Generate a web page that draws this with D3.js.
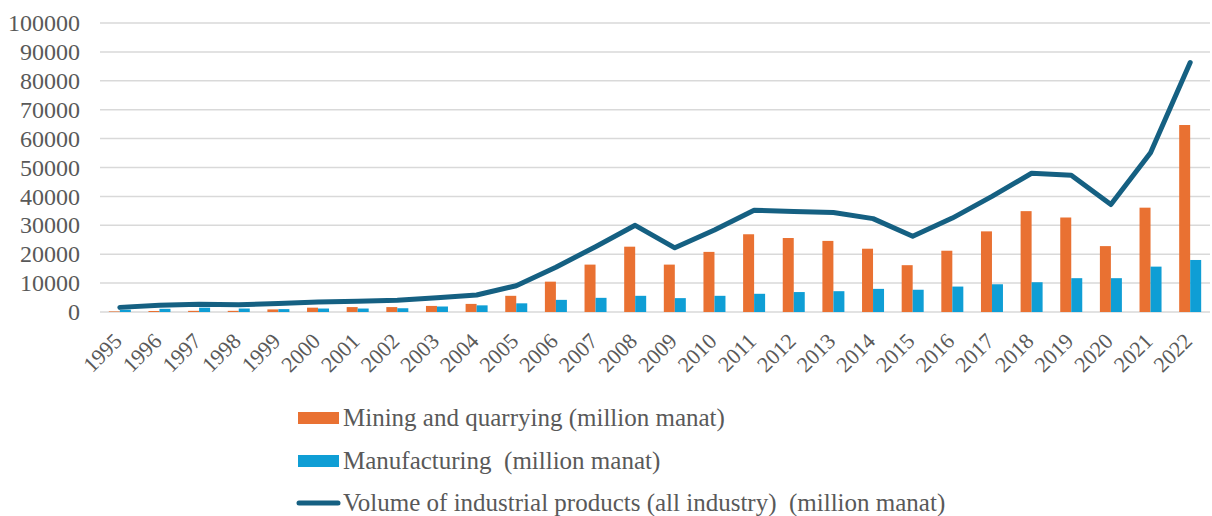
<!DOCTYPE html>
<html>
  <head>
    <meta charset="utf-8">
    <title>Industrial products</title>
    <script src="https://d3js.org/d3.v7.min.js"></script>
    <style>
      body { margin: 0; background: #fff; }
      svg text { font-family: "Liberation Serif", "Times New Roman", serif; fill: #595959; white-space: pre; }
      .grid line { stroke: #d9d9d9; stroke-width: 1.5; }
    </style>
  </head>
  <body>
    <svg id="chart" width="1212" height="516"></svg>
    <script>
      // values (million manat)
      const years = ["1995", "1996", "1997", "1998", "1999", "2000", "2001", "2002", "2003", "2004",
        "2005", "2006", "2007", "2008", "2009", "2010", "2011", "2012", "2013", "2014",
        "2015", "2016", "2017", "2018", "2019", "2020", "2021", "2022"];
      const mining = [200, 350, 400, 400, 900, 1500, 1700, 1700, 2100, 2800,
        5600, 10500, 16400, 22600, 16400, 20800, 26900, 25600, 24600, 21900,
        16200, 21200, 27900, 34900, 32700, 22800, 36100, 64700];
      const manufacturing = [800, 1100, 1500, 1200, 1000, 1200, 1200, 1300, 1900, 2300,
        3000, 4200, 4900, 5600, 4800, 5600, 6300, 6900, 7200, 8000,
        7700, 8800, 9600, 10300, 11700, 11700, 15700, 18000];
      const total = [1600, 2300, 2650, 2500, 2900, 3500, 3750, 4100, 4900, 5900,
        9100, 15500, 22600, 30000, 22200, 28400, 35200, 34800, 34400, 32300,
        26200, 32500, 40000, 48000, 47300, 37200, 55100, 86300];
      const yTicks = [0, 10000, 20000, 30000, 40000, 50000, 60000, 70000, 80000, 90000, 100000];
      const legendLabels = ["Mining and quarrying (million manat)", "Manufacturing  (million manat)",
        "Volume of industrial products (all industry)  (million manat)"];

      const colours = { mining: "#e97132", manufacturing: "#0f9ed5", total: "#156082" };
      const margin = { top: 23, right: 2, bottom: 204, left: 100 };
      const width = 1212, height = 516;

      const svg = d3.select("#chart");
      const x = d3.scaleBand()
        .domain(years)
        .range([margin.left, width - margin.right]);
      const y = d3.scaleLinear()
        .domain([0, 100000])
        .range([height - margin.bottom, margin.top]);
      const barW = 11;

      // gridlines
      svg.append("g")
        .classed("grid", true)
        .selectAll("line")
          .data(yTicks)
        .enter().append("line")
          .attr("x1", margin.left)
          .attr("x2", width - margin.right)
          .attr("y1", function(d) { return y(d); })
          .attr("y2", function(d) { return y(d); });

      // y axis labels
      const yAxis = d3.axisLeft(y).tickValues(yTicks).tickSize(0).tickPadding(20)
        .tickFormat(d3.format("d"));
      svg.append("g")
        .attr("transform", "translate(" + margin.left + ",0)")
        .call(yAxis)
        .call(function(g) {
          g.select(".domain").remove();
          g.selectAll("text").style("font-size", "24px").attr("fill", "#595959");
        });

      // bars
      const centre = function(d) { return x(d) + x.bandwidth() / 2; };
      svg.append("g").selectAll("rect")
          .data(years)
        .enter().append("rect")
          .attr("x", function(d) { return centre(d) - barW; })
          .attr("y", function(d, i) { return y(mining[i]); })
          .attr("width", barW)
          .attr("height", function(d, i) { return y(0) - y(mining[i]); })
          .attr("fill", colours.mining);
      svg.append("g").selectAll("rect")
          .data(years)
        .enter().append("rect")
          .attr("x", function(d) { return centre(d); })
          .attr("y", function(d, i) { return y(manufacturing[i]); })
          .attr("width", barW)
          .attr("height", function(d, i) { return y(0) - y(manufacturing[i]); })
          .attr("fill", colours.manufacturing);

      // total line
      const line = d3.line()
        .x(function(d, i) { return centre(years[i]); })
        .y(function(d) { return y(d); });
      svg.append("path")
        .datum(total)
        .attr("d", line)
        .attr("fill", "none")
        .attr("stroke", colours.total)
        .attr("stroke-width", 5)
        .attr("stroke-linejoin", "round")
        .attr("stroke-linecap", "round");

      // x labels, rotated
      const xAxis = d3.axisBottom(x).tickSize(0).tickPadding(0);
      svg.append("g")
        .attr("transform", "translate(0," + y(0) + ")")
        .call(xAxis)
        .call(function(g) {
          g.select(".domain").remove();
          g.selectAll("text")
            .style("font-size", "22px")
            .attr("fill", "#595959")
            .attr("text-anchor", "end")
            .attr("y", 0)
            .attr("dy", "0.35em")
            .attr("transform", "translate(-2,25) rotate(-45)");
        });

      // legend
      const legend = svg.append("g");
      const rows = legend.selectAll("g")
          .data(legendLabels)
        .enter().append("g")
          .attr("transform", function(d, i) { return "translate(298," + [418, 461, 503][i] + ")"; });
      rows.each(function(d, i) {
        const g = d3.select(this);
        if (i < 2) {
          g.append("rect").attr("x", 0).attr("y", -6).attr("width", 41).attr("height", 12)
            .attr("fill", i === 0 ? colours.mining : colours.manufacturing);
        } else {
          g.append("line").attr("x1", 1).attr("x2", 40).attr("y1", 0).attr("y2", 0)
            .attr("stroke", colours.total).attr("stroke-width", 5).attr("stroke-linecap", "round");
        }
        g.append("text")
          .attr("x", 45)
          .attr("dy", "0.33em")
          .style("font-size", "25px")
          .text(d);
      });
    </script>
  </body>
</html>
